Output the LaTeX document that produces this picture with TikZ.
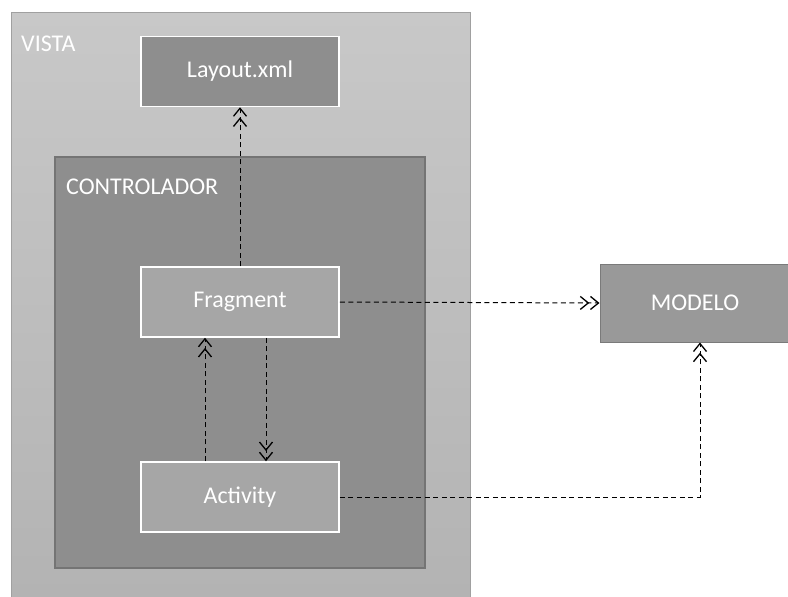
\documentclass[tikz,border=0pt]{standalone}
\usepackage{fontspec}
\setmainfont{Carlito}
\usetikzlibrary{arrows.meta}
\definecolor{vistatop}{HTML}{C8C8C8}
\definecolor{vistabot}{HTML}{B3B3B3}
\definecolor{vistaedge}{HTML}{A0A0A0}
\definecolor{ctrlfill}{HTML}{8E8E8E}
\definecolor{ctrledge}{HTML}{747474}
\definecolor{innerfill}{HTML}{A6A6A6}
\definecolor{layoutfill}{HTML}{8E8E8E}
\definecolor{modelfill}{HTML}{999999}
\definecolor{modeledge}{HTML}{7A7A7A}
\tikzset{
  boxtext/.style={text=white, font=\fontsize{24}{28}\selectfont},
  innerbox/.style={draw=white, line width=1.5pt, fill=innerfill, minimum width=198pt, minimum height=70pt, inner sep=0pt, boxtext},
  dep/.style={draw=black, dashed, dash pattern=on 5pt off 3.5pt, line width=1pt,
    -{Straight Barb[length=8pt,width=13pt,line width=1.3pt,sep=0.5pt]Straight Barb[length=8pt,width=13pt,line width=1.3pt]}},
}
\begin{document}
\begin{tikzpicture}[x=1pt,y=-1pt]
\useasboundingbox (0,0) rectangle (788,597);
% VISTA
\shade[top color=vistatop, bottom color=vistabot] (11,12) rectangle (470,597);
\draw[vistaedge, line width=1pt] (11,597) -- (11,12) -- (470,12) -- (470,597);
\node[anchor=north west, boxtext, inner sep=0pt] (vista) at (21,36) {VISTA};
% CONTROLADOR
\draw[draw=ctrledge, fill=ctrlfill, line width=1.5pt] (55,157) rectangle (425,568);
\node[anchor=north west, boxtext, inner sep=0pt] (ctrl) at (66,179) {CONTROLADOR};
% Boxes
\node[innerbox, fill=layoutfill] (layout) at (240,71.5) {Layout.xml};
\node[innerbox] (frag) at (240,302) {Fragment};
\node[innerbox] (act) at (240,497) {Activity};
\node[draw=modeledge, fill=modelfill, line width=1pt, minimum width=190pt, minimum height=78pt, inner sep=0pt, boxtext] (modelo) at (695,303) {MODELO};
% Connectors
\draw[dep] (frag.north) -- (layout.south);
\draw[dep] (frag.east) -- (modelo.west);
\draw[dep] ([xshift=-35pt]act.north) -- ([xshift=-35pt]frag.south);
\draw[dep] ([xshift=26pt]frag.south) -- ([xshift=26pt]act.north);
\draw[dep] (act.east) -- (act.east -| 700,0) -- (700,0 |- modelo.south);
\end{tikzpicture}
\end{document}
